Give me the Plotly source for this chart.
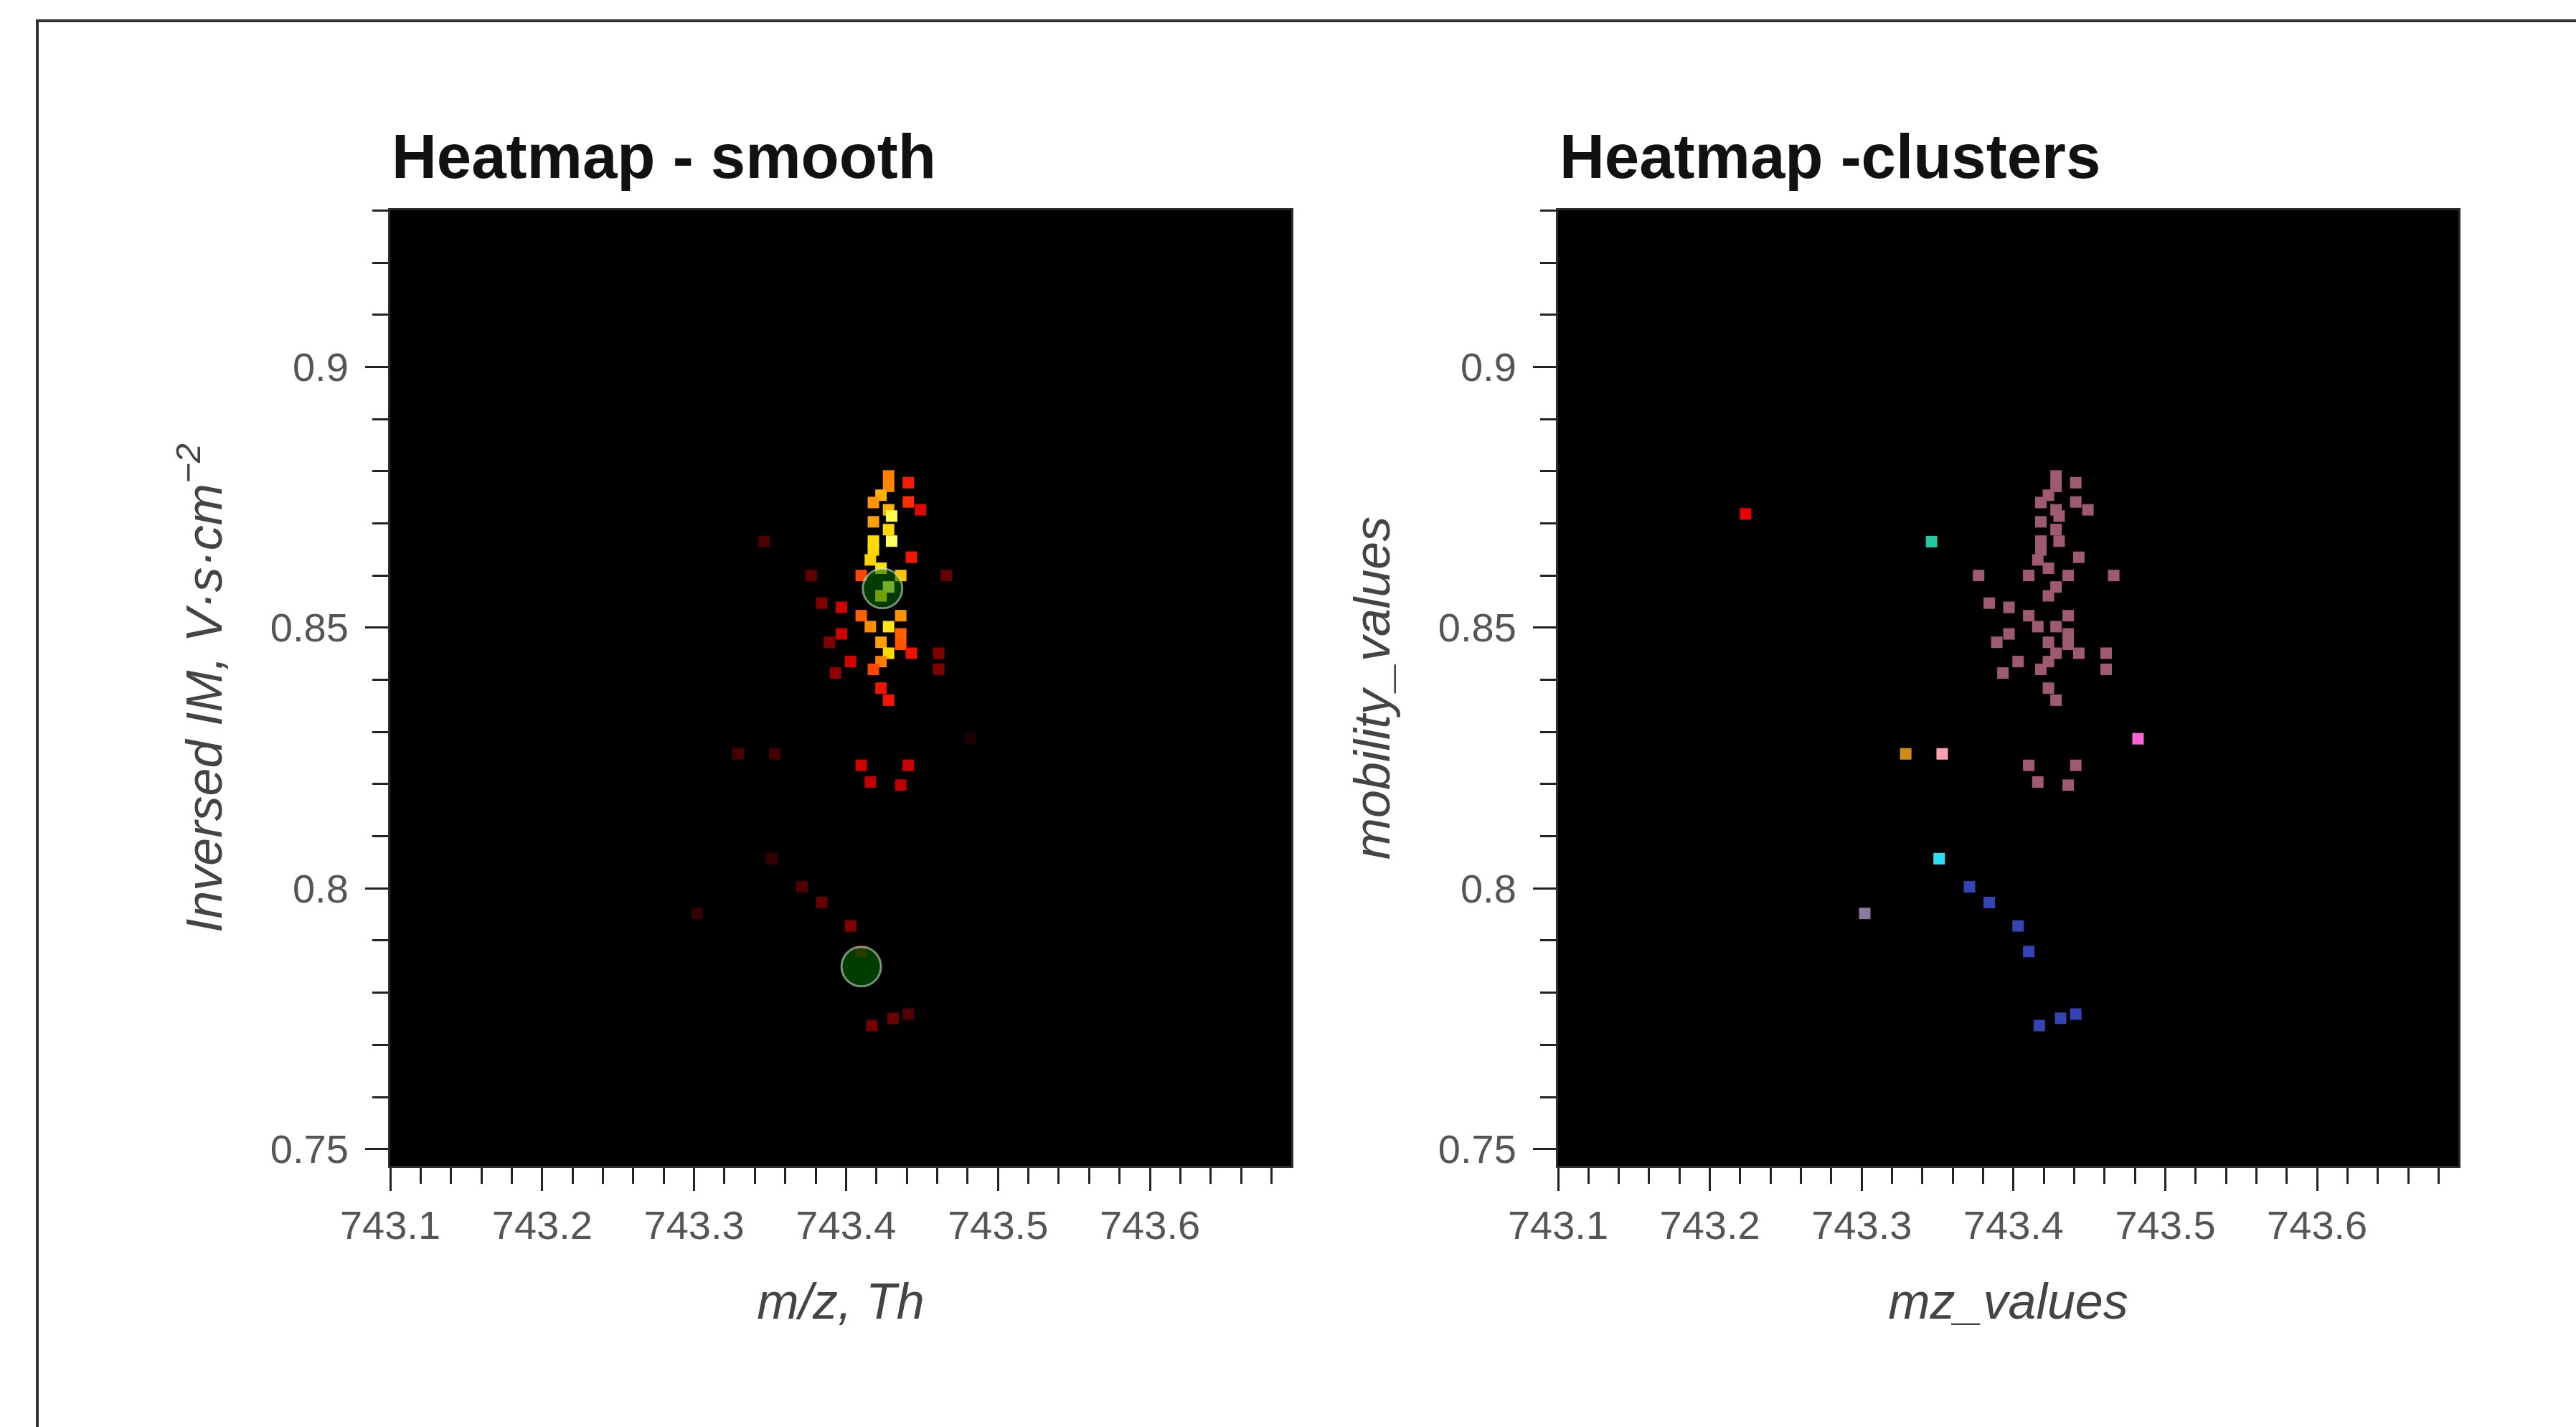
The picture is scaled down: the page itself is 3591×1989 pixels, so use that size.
import plotly.graph_objects as go

# ---------------- data ----------------
mz_values = [
    743.428, 743.428, 743.441, 743.423, 743.418, 743.441, 743.449, 743.428, 743.430, 743.418,
    743.428, 743.430, 743.418, 743.418, 743.416, 743.443, 743.423, 743.377, 743.410, 743.436,
    743.466, 743.428, 743.423, 743.384, 743.397, 743.410, 743.436, 743.416, 743.428, 743.397,
    743.389, 743.436, 743.436, 743.423, 743.428, 743.443, 743.461, 743.403, 743.423, 743.418,
    743.393, 743.461, 743.423, 743.428, 743.410, 743.441, 743.416, 743.436,
    743.2235, 743.346, 743.329, 743.353, 743.482, 743.351,
    743.371, 743.384, 743.403, 743.410, 743.441, 743.431, 743.417,
    743.302,
]
mobility_values = [
    0.8791, 0.8771, 0.8778, 0.8754, 0.8740, 0.8741, 0.8726, 0.8726, 0.8714, 0.8703,
    0.8688, 0.8666, 0.8666, 0.8649, 0.8630, 0.8635, 0.8614, 0.8600, 0.8600, 0.8600,
    0.8600, 0.8578, 0.8561, 0.8547, 0.8539, 0.8523, 0.8523, 0.8502, 0.8502, 0.8488,
    0.8472, 0.8488, 0.8468, 0.8472, 0.8451, 0.8451, 0.8451, 0.8435, 0.8435, 0.8420,
    0.8413, 0.8420, 0.8384, 0.8361, 0.8236, 0.8236, 0.8204, 0.8198,
    0.8718, 0.8665, 0.8258, 0.8258, 0.8287, 0.8057,
    0.8003, 0.7973, 0.7928, 0.7879, 0.7759, 0.7751, 0.7737,
    0.7952,
]
intensity = [
    0.55, 0.56, 0.38, 0.63, 0.58, 0.42, 0.33, 0.64, 0.82, 0.60,
    0.70, 0.85, 0.71, 0.70, 0.69, 0.37, 0.72, 0.15, 0.46, 0.66,
    0.16, 0.85, 0.72, 0.20, 0.30, 0.50, 0.58, 0.57, 0.73, 0.30,
    0.20, 0.50, 0.48, 0.60, 0.70, 0.36, 0.20, 0.31, 0.55, 0.46,
    0.22, 0.20, 0.36, 0.37, 0.30, 0.29, 0.28, 0.27,
    0.00, 0.12, 0.12, 0.11, 0.05, 0.09,
    0.13, 0.16, 0.20, 0.15, 0.13, 0.17, 0.18,
    0.09,
]
cluster = ["A"] * 48 + ["B", "C", "D", "E", "F", "G"] + ["H"] * 7 + ["I"]

cluster_names = ["A", "B", "C", "D", "E", "F", "G", "H", "I"]
cluster_colors = ["rgb(158,90,110)", "rgb(232,0,0)", "rgb(36,200,160)", "rgb(210,140,20)",
                  "rgb(255,160,176)", "rgb(255,100,215)", "rgb(40,225,245)", "rgb(52,68,180)",
                  "rgb(140,122,156)"]

peak_mz = [743.424, 743.410]
peak_mobility = [0.8575, 0.7850]

x_tick_vals = [743.1, 743.2, 743.3, 743.4, 743.5, 743.6]
x_tick_text = ["743.1", "743.2", "743.3", "743.4", "743.5", "743.6"]
y_tick_vals = [0.75, 0.8, 0.85, 0.9]
y_tick_text = ["0.75", "0.8", "0.85", "0.9"]

titles = ["Heatmap - smooth", "Heatmap -clusters"]
x_titles = ["m/z, Th", "mz_values"]
y_titles = ["Inversed IM, V·s·cm<sup>−2</sup>", "mobility_values"]

# ---------------- layout geometry (px) ----------------
W, H = 3591, 1989
ML, MR, MT, MB = 544, 164, 293, 364
PW = W - ML - MR
PH = H - MT - MB
left_end = (1800 - ML) / PW
right_start = (2172 - ML) / PW

FONT = "Liberation Sans, Arial, Helvetica, sans-serif"

hot_scale = [
    [0.0, "#000000"], [0.1, "#3c0000"], [0.2, "#800000"], [0.3, "#d00000"],
    [0.4, "#ff2000"], [0.5, "#ff6000"], [0.6, "#ffa000"], [0.7, "#ffd800"],
    [0.8, "#ffff40"], [1.0, "#ffffc0"],
]

fig = go.Figure()

# left: smoothed heatmap cells
fig.add_trace(go.Scatter(
    x=mz_values, y=mobility_values, mode="markers",
    marker=dict(symbol="square", size=16, color=intensity, colorscale=hot_scale,
                cmin=0, cmax=1, line=dict(width=0)),
    xaxis="x", yaxis="y", showlegend=False, hoverinfo="skip",
))
# left: detected peaks
fig.add_trace(go.Scatter(
    x=peak_mz, y=peak_mobility, mode="markers",
    marker=dict(symbol="circle", size=55, color="rgba(0,110,0,0.55)",
                line=dict(width=3, color="rgba(200,225,200,0.6)")),
    xaxis="x", yaxis="y", showlegend=False, hoverinfo="skip",
))

# right: clusters
for name, col in zip(cluster_names, cluster_colors):
    xs = [m for m, c in zip(mz_values, cluster) if c == name]
    ys = [v for v, c in zip(mobility_values, cluster) if c == name]
    fig.add_trace(go.Scatter(
        x=xs, y=ys, mode="markers",
        marker=dict(symbol="square", size=16, color=col, line=dict(width=0)),
        xaxis="x2", yaxis="y2", showlegend=False, hoverinfo="skip",
    ))

tick_font = dict(family=FONT, size=56, color="#555555")
title_font = dict(family=FONT, size=70, color="#444444", style="italic")

def xaxis_cfg(domain, title, anchor):
    return dict(
        domain=domain, anchor=anchor, range=[743.1, 743.693],
        showgrid=False, zeroline=False, showline=True, linecolor="#2b2b2b",
        linewidth=3, mirror=True,
        tickmode="array", tickvals=x_tick_vals, ticktext=x_tick_text,
        ticks="outside", ticklen=32, tickwidth=3, tickcolor="#222222",
        tickfont=tick_font, ticklabelstandoff=0,
        minor=dict(ticks="outside", ticklen=22, tickwidth=3, tickcolor="#222222",
                   tick0=743.1, dtick=0.02, showgrid=False),
        title=dict(text=title, font=title_font, standoff=51),
    )

def yaxis_cfg(title, anchor):
    return dict(
        domain=[0, 1], anchor=anchor, range=[0.7468, 0.93005],
        showgrid=False, zeroline=False, showline=True, linecolor="#2b2b2b",
        linewidth=3, mirror=True,
        tickmode="array", tickvals=y_tick_vals, ticktext=y_tick_text,
        ticks="outside", ticklen=32, tickwidth=3, tickcolor="#222222",
        tickfont=tick_font, ticklabelstandoff=12,
        minor=dict(ticks="outside", ticklen=22, tickwidth=3, tickcolor="#222222",
                   tick0=0.75, dtick=0.01, showgrid=False),
        title=dict(text=title, font=title_font, standoff=45),
    )

fig.update_layout(
    width=W, height=H, autosize=False,
    margin=dict(l=ML, r=MR, t=MT, b=MB, pad=0),
    paper_bgcolor="white", plot_bgcolor="black",
    xaxis=xaxis_cfg([0, left_end], x_titles[0], "y"),
    yaxis=yaxis_cfg(y_titles[0], "x"),
    xaxis2=xaxis_cfg([right_start, 1], x_titles[1], "y2"),
    yaxis2=yaxis_cfg(y_titles[1], "x2"),
    font=dict(family=FONT),
)

title_y = (H - MB - 217.5) / PH
for xpos, txt in zip([0, right_start], titles):
    fig.add_annotation(
        x=xpos, y=title_y, xref="paper", yref="paper", xanchor="left", yanchor="middle",
        text=txt, showarrow=False,
        font=dict(family=FONT, size=87, color="#111111", weight="bold"),
    )

# outer frame of the figure panel
fig.add_shape(
    type="rect", xref="paper", yref="paper",
    x0=(52 - ML) / PW, x1=(W + 40 - ML) / PW,
    y0=(H - MB - (H + 40)) / PH, y1=(H - MB - 29) / PH,
    line=dict(color="#333333", width=4), fillcolor="rgba(0,0,0,0)", layer="above",
)

fig.write_html(
    "out.html",
    config={"displayModeBar": False},
    post_script="document.body.style.margin='0px';document.body.style.overflow='hidden';",
)
